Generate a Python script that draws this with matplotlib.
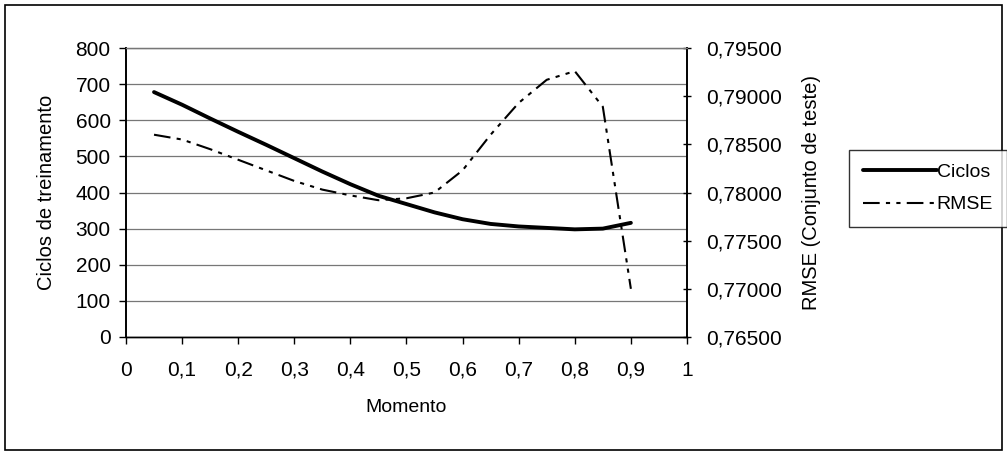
import numpy as np
import matplotlib.pyplot as plt
from matplotlib.ticker import FuncFormatter
from matplotlib.patches import Rectangle

plt.rcParams['font.family'] = ['Liberation Sans', 'DejaVu Sans']

# Data
momento = [0.05, 0.10, 0.15, 0.20, 0.25, 0.30, 0.35, 0.40, 0.45,
           0.50, 0.55, 0.60, 0.65, 0.70, 0.75, 0.80, 0.85, 0.90]
ciclos = [678, 643, 605, 568, 532, 495, 458, 423, 391,
          368, 345, 326, 313, 306, 302, 298, 300, 316]
rmse = [0.7860, 0.7855, 0.7845, 0.7834, 0.7823, 0.7812, 0.7803, 0.7797, 0.7792,
        0.7794, 0.7800, 0.7823, 0.7860, 0.7893, 0.7917, 0.7926, 0.7889, 0.7700]

fig = plt.figure(figsize=(10.07, 4.53), dpi=100)
ax = fig.add_axes([0.1251, 0.2561, 0.5571, 0.6379])
ax2 = ax.twinx()

# outer frame
fig.patches.append(Rectangle((0.005, 0.007), 0.99, 0.982, transform=fig.transFigure,
                             fill=False, edgecolor='black', linewidth=1.2))

l1, = ax.plot(momento, ciclos, color='black', lw=2.8, solid_capstyle='round')
l2, = ax2.plot(momento, rmse, color='black', lw=1.5, dashes=(8, 3, 2, 3, 2, 3))

ax.set_xlim(0, 1)
ax.set_ylim(0, 800)
ax2.set_ylim(0.765, 0.795)
ax.set_xticks(np.arange(0, 1.01, 0.1))
ax.set_yticks(np.arange(0, 801, 100))
ax2.set_yticks(np.arange(0.765, 0.7951, 0.005))

comma = lambda fmt: FuncFormatter(lambda v, p: (fmt % v).replace('.', ','))
ax.xaxis.set_major_formatter(FuncFormatter(lambda v, p: ('%g' % round(v, 1)).replace('.', ',')))
ax.yaxis.set_major_formatter(comma('%d'))
ax2.yaxis.set_major_formatter(comma('%.5f'))

ax.yaxis.grid(True, color='#777777', lw=0.9)
ax.set_axisbelow(True)
for a in (ax, ax2):
    a.spines['top'].set_color('#777777')
    a.spines['top'].set_linewidth(0.9)
    a.spines['left'].set_linewidth(1.2)
    a.spines['right'].set_linewidth(1.2)
    a.spines['bottom'].set_linewidth(1.0)

ax.tick_params(axis='both', labelsize=15, length=5, width=1.0)
ax.tick_params(axis='x', pad=12)
ax.tick_params(axis='y', pad=6)
ax2.tick_params(axis='y', labelsize=15, length=6, width=1.0, direction='inout', pad=11)

ax.set_xlabel('Momento', fontsize=14, labelpad=14)
ax.set_ylabel('Ciclos de treinamento', fontsize=14.5, labelpad=14)
ax2.set_ylabel('RMSE (Conjunto de teste)', fontsize=14.5, labelpad=14)

leg = fig.legend([l1, l2], ['Ciclos', 'RMSE'], loc='center',
                 bbox_to_anchor=(0.847, 0.499, 0.149, 0.17), fontsize=14,
                 frameon=True, fancybox=False, edgecolor='black',
                 handlelength=3.8, handletextpad=0.0, borderpad=0.7,
                 labelspacing=0.75, borderaxespad=0)
leg.get_frame().set_linewidth(1.0)

fig.savefig('out.png', dpi=100)
